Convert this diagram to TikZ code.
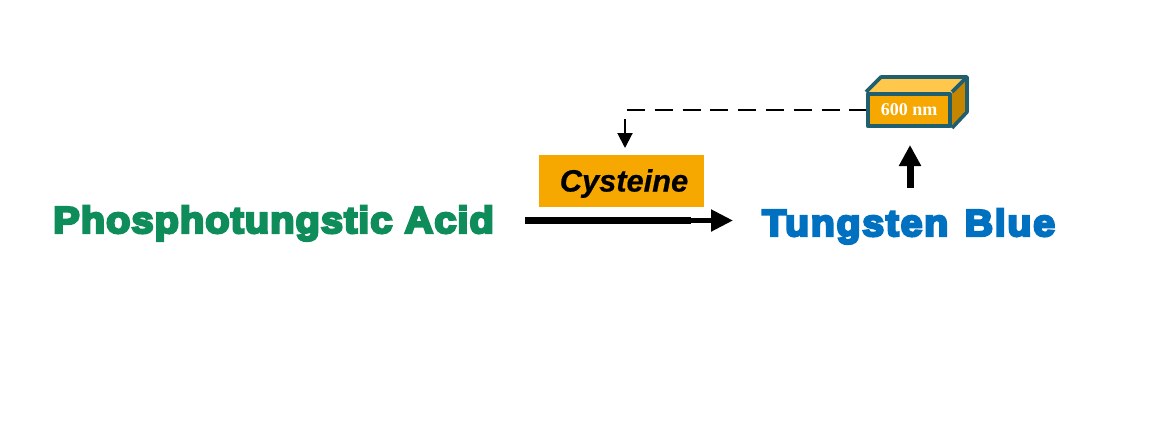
\documentclass[tikz,border=0pt]{standalone}
\usepackage{fontspec}
\setmainfont{Liberation Sans}
\newfontfamily\heavy[FakeBold=6.5,FakeStretch=1.065,LetterSpace=2.5]{Liberation Sans Bold}
\newfontfamily\heavyb[FakeBold=6.5,FakeStretch=1.05,LetterSpace=4.5,WordSpace=1.3]{Liberation Sans Bold}
\newfontfamily\capfont[FakeBold=0.6]{Liberation Sans Bold Italic}
\newfontfamily\serifb{Liberation Serif Bold}
\usetikzlibrary{arrows.meta}
\definecolor{pta}{HTML}{0E8C5A}
\definecolor{tb}{HTML}{0070C0}
\definecolor{amber}{HTML}{F7A800}
\definecolor{amberlight}{HTML}{FFC84D}
\definecolor{amberdark}{HTML}{C48600}
\definecolor{teal}{HTML}{1F5F6F}
\tikzset{
  heavylabel/.style={inner sep=0pt,anchor=base west},
  cubeedge/.style={draw=teal,line width=3.6pt,line join=round},
  link/.style={black,line width=7pt},
}
\begin{document}
\begin{tikzpicture}[x=1pt,y=-1pt]
\useasboundingbox[fill=white] (0,0) rectangle (1155,429);
% labels
\node[heavylabel,text=pta] (acid) at (53,233) {\fontsize{37.5}{40}\heavy Phosphotungstic Acid};
\node[heavylabel,text=tb] (blue) at (762,236) {\fontsize{37.5}{40}\heavyb Tungsten Blue};
\node[fill=amber,minimum width=165pt,minimum height=52pt,inner sep=0pt,text depth=0pt] (cys) at (621.5,181) {};
\node[inner sep=0pt,anchor=base] (cyslabel) at (624,191.5) {\fontsize{30.8}{32}\capfont Cysteine};
% cube
\fill[amberlight] (866,92) -- (881,77) -- (967,77) -- (952,92) -- cycle;
\fill[amberdark] (952,92) -- (967,77) -- (967,112) -- (952,128) -- cycle;
\draw[cubeedge] (866,92) -- (881,77) -- (967,77) -- (967,112) -- (952,128);
\draw[cubeedge] (952,92) -- (967,77);
\node[cubeedge,fill=amber,minimum width=82.5pt,minimum height=32.5pt,inner sep=0pt,text=white] (cube) at (909,110)
  {\fontsize{18}{20}\serifb 600 nm};
% connectors
\coordinate (corner) at (627,110);
\coordinate (dropstart) at (625,119);
\coordinate (droptip) at (625,148);
\draw[line width=2pt,dash pattern=on 18pt off 9.8pt] (corner) -- (cube.west);
\draw[line width=2pt,-{Triangle[length=15pt,width=15pt]}] (dropstart) -- (droptip);
\coordinate (mainstart) at (525,220.5);
\coordinate (mainmid) at (691,220.5);
\coordinate (maintip) at (733,220.5);
\draw[link] (mainstart) -- (mainmid);
\draw[line width=5pt,-{Triangle[length=22pt,width=21pt]}] (mainmid) -- (maintip);
\coordinate (upstart) at (910,188);
\coordinate (uptip) at (910,145);
\draw[link,-{Triangle[length=21pt,width=21pt]}] (upstart) -- (uptip);
\end{tikzpicture}
\end{document}
